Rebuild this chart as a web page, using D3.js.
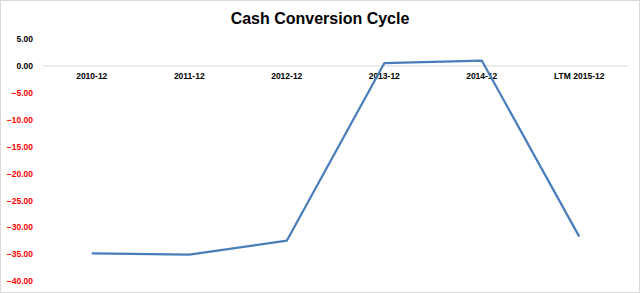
<!DOCTYPE html>
<html>
<head>
<meta charset="utf-8">
<script src="https://cdn.jsdelivr.net/npm/d3@7"></script>
<style>
  body { margin: 0; background: #fff; }
  svg { display: block; font-family: "Liberation Sans", Arial, sans-serif; }
</style>
</head>
<body>
<div id="chart"></div>
<script>
const periods = ['2010-12', '2011-12', '2012-12', '2013-12', '2014-12', 'LTM 2015-12']
const ccc = [-34.85, -35.1, -32.5, 0.5, 1.0, -31.75]
const yTicks = [5, 0, -5, -10, -15, -20, -25, -30, -35, -40]

const W = 640, H = 293
const margin = { top: 39, right: 12, bottom: 12, left: 43 }

const svg = d3.select('#chart').append('svg')
  .attr('width', W)
  .attr('height', H)

// outer border
svg.append('rect')
  .attr('x', 0.5).attr('y', 0.5)
  .attr('width', W - 1).attr('height', H - 1)
  .attr('fill', '#fff')
  .attr('stroke', '#d9d9d9')

const x = d3.scaleBand()
  .domain(periods)
  .range([43, 628])

const y = d3.scaleLinear()
  .domain([-40, 5])
  .range([281, 39])

svg.append('text')
  .attr('x', 320).attr('y', 24)
  .attr('text-anchor', 'middle')
  .style('font-size', '16px')
  .style('font-weight', 'bold')
  .text('Cash Conversion Cycle')

// y axis labels
const yAxis = d3.axisLeft(y)
  .tickValues(yTicks)
  .tickFormat(d3.format('.2f'))
  .tickSize(0)
  .tickPadding(0)
svg.append('g')
  .attr('transform', 'translate(33,0)')
  .call(yAxis)
  .call(g => g.select('.domain').remove())
  .call(g => g.selectAll('text')
    .style('font-family', '"Liberation Sans", Arial, sans-serif')
    .style('font-size', '8.5px')
    .style('font-weight', 'bold')
    .attr('fill', d => d < 0 ? '#ff0000' : '#000'))

// zero line
svg.append('line')
  .attr('x1', x.range()[0]).attr('x2', x.range()[1])
  .attr('y1', y(0)).attr('y2', y(0))
  .attr('stroke', '#d9d9d9')
  .attr('stroke-width', 1)

// category labels
const xAxis = d3.axisBottom(x).tickSize(0).tickPadding(0)
svg.append('g')
  .attr('transform', 'translate(0,' + (y(0) + 7) + ')')
  .call(xAxis)
  .call(g => g.select('.domain').remove())
  .call(g => g.selectAll('text')
    .style('font-family', '"Liberation Sans", Arial, sans-serif')
    .style('font-size', '8.5px')
    .style('font-weight', 'bold')
    .attr('fill', '#000'))

const line = d3.line()
  .x((d, i) => x(periods[i]) + x.bandwidth() / 2)
  .y(d => y(d))

svg.append('path')
  .datum(ccc)
  .attr('d', line)
  .attr('fill', 'none')
  .attr('stroke', '#4a7ebb')
  .attr('stroke-width', 2.25)
  .attr('stroke-linejoin', 'round')
</script>
</body>
</html>
